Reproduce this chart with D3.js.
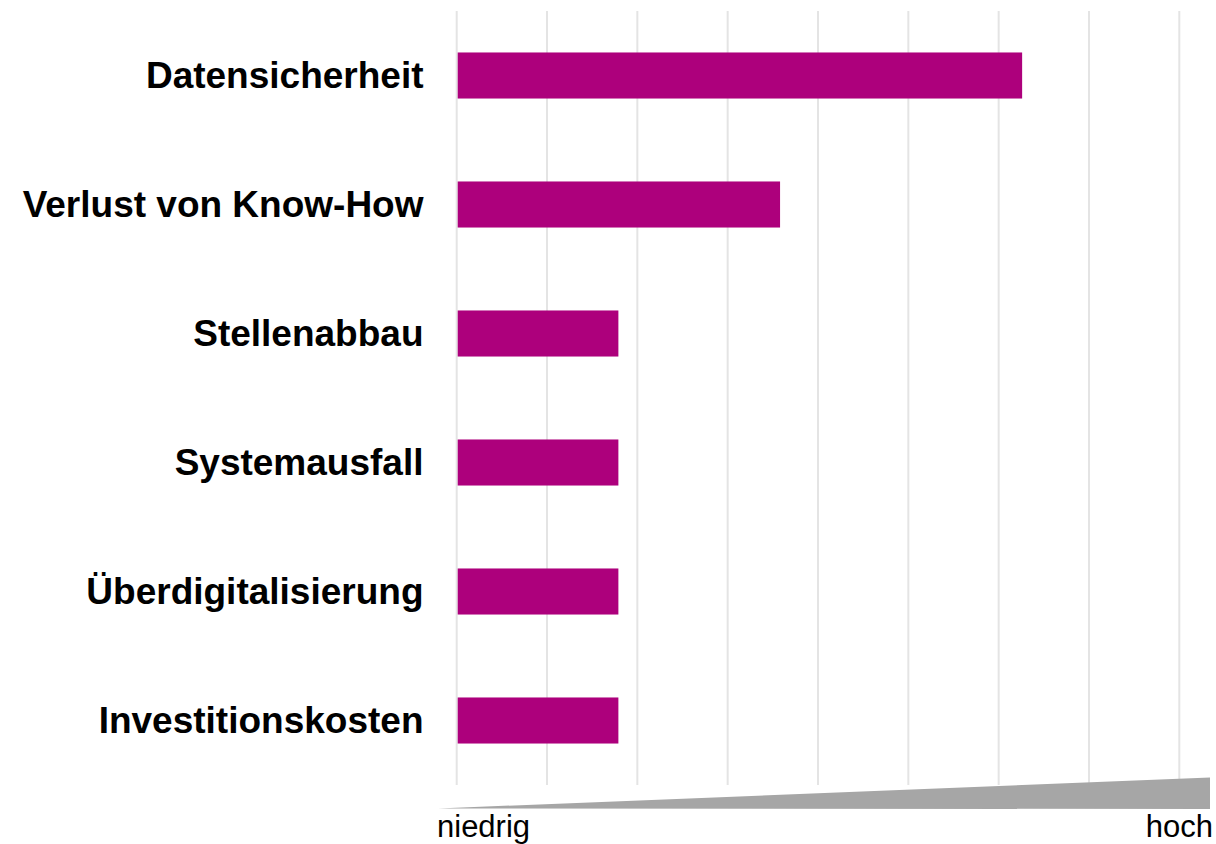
<!DOCTYPE html>
<html>
<head>
<meta charset="utf-8">
<script src="https://cdn.jsdelivr.net/npm/d3@7"></script>
<style>
  body { margin: 0; background: #fff; }
  svg { display: block; font-family: "Liberation Sans", Arial, sans-serif; }
</style>
</head>
<body>
<svg width="1216" height="844"></svg>
<script>
// categories top to bottom and their (unitless) rating on a 0..8 scale
const categories = ["Datensicherheit", "Verlust von Know-How", "Stellenabbau",
  "Systemausfall", "Überdigitalisierung", "Investitionskosten"];
const values = [6.26, 3.58, 1.79, 1.79, 1.79, 1.79];
const gridTicks = [0, 1, 2, 3, 4, 5, 6, 7, 8];
const scaleLabels = ["niedrig", "hoch"];

const svg = d3.select("svg");
const data = categories.map((c, i) => ({ name: c, value: values[i] }));

const x = d3.scaleLinear().domain([0, 8]).range([456.7, 1179.3]);
const y = d3.scaleBand().domain(categories).range([11, 785])
  .paddingInner(0.643).paddingOuter(0.3215);

// vertical gridlines
svg.append("g")
  .selectAll("line")
  .data(gridTicks)
  .enter().append("line")
  .attr("x1", d => x(d))
  .attr("x2", d => x(d))
  .attr("y1", 11)
  .attr("y2", 785)
  .attr("stroke", "#e4e4e4")
  .attr("stroke-width", 2);

// bars
svg.append("g")
  .selectAll("rect")
  .data(data)
  .enter().append("rect")
  .attr("x", x(0) + 1)
  .attr("y", d => y(d.name))
  .attr("width", d => x(d.value) - x(0) - 1)
  .attr("height", y.bandwidth())
  .attr("fill", "#ad007c");

// category labels
svg.append("g")
  .selectAll("text")
  .data(data)
  .enter().append("text")
  .attr("x", 423.5)
  .attr("y", d => y(d.name) + y.bandwidth() / 2 + 12.5)
  .attr("text-anchor", "end")
  .style("font-size", "37px")
  .style("font-weight", "bold")
  .attr("fill", "#000")
  .text(d => d.name);

// low -> high wedge under the axis
svg.append("polygon")
  .attr("points", [[438, 808.5], [1210, 777.5], [1210, 809]].map(p => p.join(",")).join(" "))
  .attr("fill", "#a6a6a6");

svg.append("text")
  .attr("x", 437)
  .attr("y", 837)
  .attr("text-anchor", "start")
  .style("font-size", "31px")
  .attr("fill", "#000")
  .text(scaleLabels[0]);

svg.append("text")
  .attr("x", 1213)
  .attr("y", 837)
  .attr("text-anchor", "end")
  .style("font-size", "31px")
  .attr("fill", "#000")
  .text(scaleLabels[1]);
</script>
</body>
</html>
